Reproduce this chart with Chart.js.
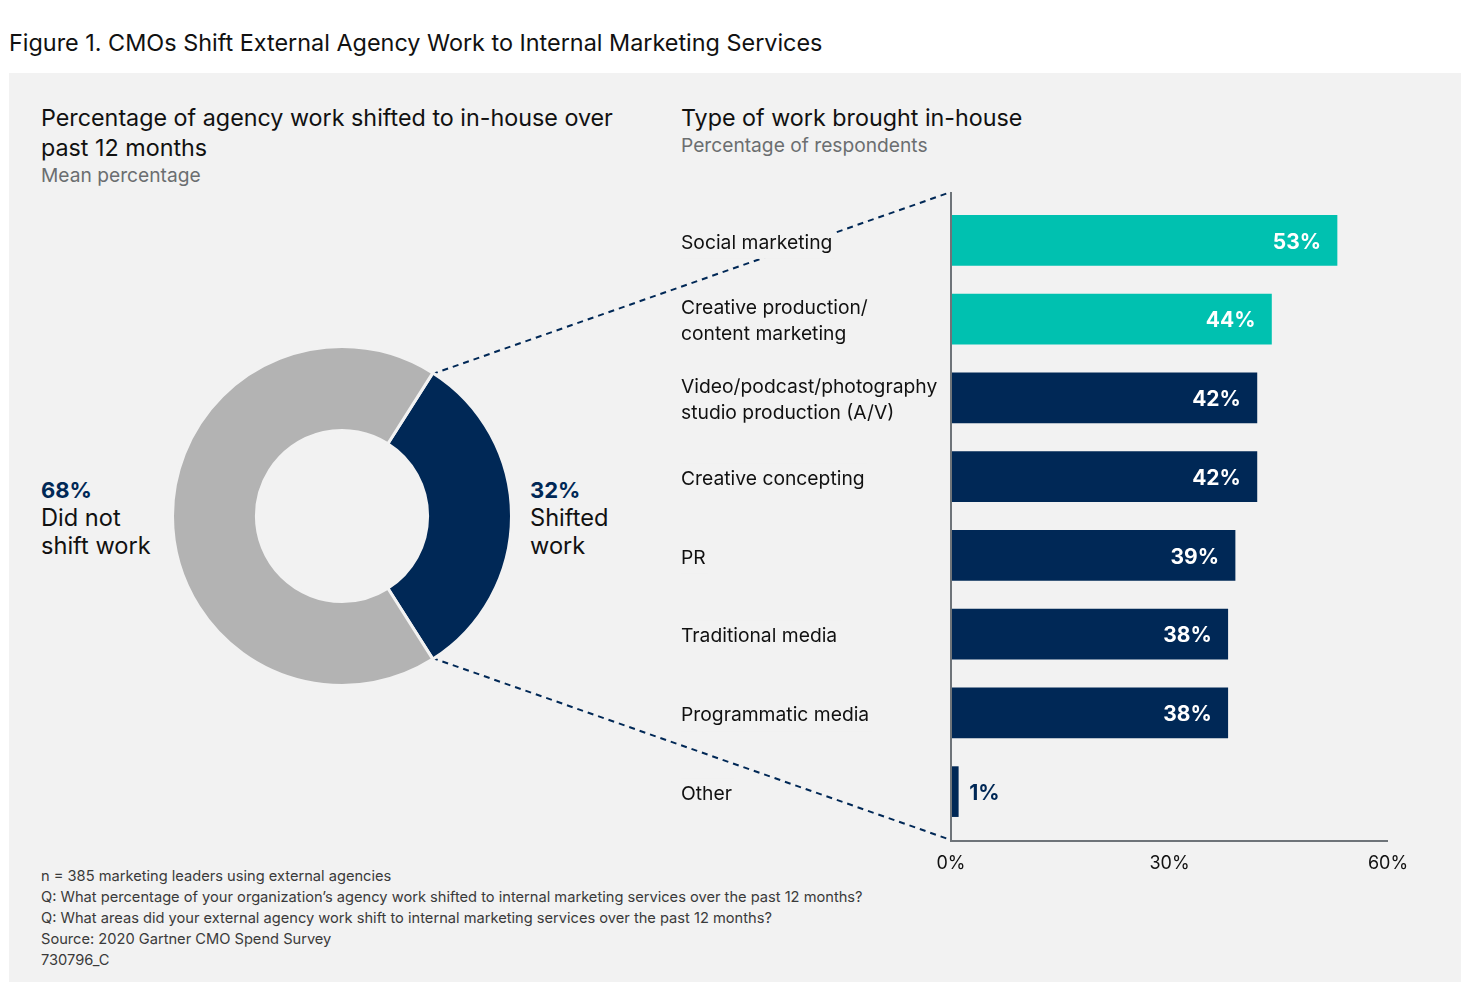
<!DOCTYPE html>
<html>
<head>
<meta charset="utf-8">
<script src="https://cdn.jsdelivr.net/npm/chart.js@4/dist/chart.umd.min.js"></script>
<style>
  html, body { margin: 0; padding: 0; background: #ffffff; }
  body { width: 1480px; height: 982px; position: relative; overflow: hidden; font-family: Inter, Roboto, "Noto Sans", sans-serif; color: #111; }
  .abs { position: absolute; white-space: nowrap; }
  #title { left: 9px; top: 28px; font-size: 23.4px; line-height: 30px; color: #111; }
  #panel { left: 9px; top: 73px; width: 1452px; height: 909px; background: #f2f2f2; }
  .h { font-size: 23.3px; line-height: 30px; color: #111; }
  .sub { font-size: 19.2px; line-height: 26px; color: #6b6e70; }
  .dl { font-size: 23.6px; line-height: 28px; color: #111; }
  .dl b { color: #002856; font-weight: 700; font-size: 22px; }
  #foot { left: 41px; top: 866px; font-size: 14.65px; line-height: 21px; color: #3a3a3a; }
  canvas { position: absolute; }
</style>
</head>
<body>
<div id="title" class="abs">Figure 1. CMOs Shift External Agency Work to Internal Marketing Services</div>
<div id="panel" class="abs"></div>

<div class="abs h" style="left:41px; top:103px;">Percentage of agency work shifted to in-house over<br>past 12 months</div>
<div class="abs sub" style="left:41px; top:162px;">Mean percentage</div>

<div class="abs h" style="left:681px; top:103px;">Type of work brought in-house</div>
<div class="abs sub" style="left:681px; top:132px;">Percentage of respondents</div>

<div class="abs dl" style="left:41px; top:476px;"><b id="lblNot"></b><br>Did not<br>shift work</div>
<div class="abs dl" style="left:530px; top:476px;"><b id="lblShift"></b><br>Shifted<br>work</div>

<div id="foot" class="abs">n = 385 marketing leaders using external agencies<br>Q: What percentage of your organization’s agency work shifted to internal marketing services over the past 12 months?<br>Q: What areas did your external agency work shift to internal marketing services over the past 12 months?<br>Source: 2020 Gartner CMO Spend Survey<br>730796_C</div>

<canvas id="links" width="1480" height="982" style="left:0;top:0;"></canvas>
<canvas id="donut" width="342" height="342" style="left:171px;top:345px;"></canvas>
<canvas id="bars" width="760" height="700" style="left:671px;top:180px;"></canvas>

<script>
// ---- data ----
const donutLabels = ["Shifted work", "Did not shift work"];
const donutValues = [32, 68];

const barCategories = [
  "Social marketing",
  ["Creative production/", "content marketing"],
  ["Video/podcast/photography", "studio production (A/V)"],
  "Creative concepting",
  "PR",
  "Traditional media",
  "Programmatic media",
  "Other"
];
const barValues = [53, 44, 42, 42, 39, 38, 38, 1];
const highlightCount = 2;
const xTicks = [0, 30, 60];

const NAVY = "#002856", TEAL = "#00c1b0", GREY = "#b3b3b3", PANEL = "#f2f2f2";
const FONT = "Inter, Roboto, 'Noto Sans', sans-serif";

document.getElementById("lblShift").textContent = donutValues[0] + "%";
document.getElementById("lblNot").textContent = donutValues[1] + "%";

Chart.defaults.font.family = FONT;
Chart.defaults.color = "#111";

const donut = new Chart(document.getElementById("donut"), {
  type: "doughnut",
  data: {
    labels: donutLabels,
    datasets: [{
      data: donutValues,
      backgroundColor: [NAVY, GREY],
      borderColor: PANEL,
      borderWidth: 3,
      hoverOffset: 0
    }]
  },
  options: {
    responsive: false,
    animation: false,
    devicePixelRatio: 1,
    rotation: 90 - donutValues[0] / 100 * 180,
    cutout: "50.5%",
    layout: { padding: 0 },
    plugins: { legend: { display: false }, tooltip: { enabled: false } }
  }
});

const valueLabels = {
  id: "valueLabels",
  afterDatasetsDraw(chart) {
    const ctx = chart.ctx;
    const meta = chart.getDatasetMeta(0);
    ctx.save();
    ctx.font = "700 21px " + FONT;
    ctx.textBaseline = "middle";
    meta.data.forEach((bar, i) => {
      const txt = barValues[i] + "%";
      const w = ctx.measureText(txt).width;
      const len = bar.x - bar.base;
      if (len > w + 30) {
        ctx.fillStyle = "#ffffff";
        ctx.textAlign = "right";
        ctx.fillText(txt, bar.x - 16, bar.y + 2);
      } else {
        ctx.fillStyle = NAVY;
        ctx.textAlign = "left";
        ctx.fillText(txt, bar.x + 11, bar.y + 2);
      }
    });
    ctx.restore();
  },
  afterDraw(chart) {
    const ctx = chart.ctx, a = chart.chartArea;
    ctx.save();
    ctx.strokeStyle = "#6e7479";
    ctx.lineWidth = 2;
    ctx.beginPath();
    ctx.moveTo(a.left, a.top - 9);
    ctx.lineTo(a.left, a.bottom + 11);
    ctx.moveTo(a.left - 1, a.bottom + 10);
    ctx.lineTo(a.right, a.bottom + 10);
    ctx.stroke();
    ctx.restore();
  }
};

const bars = new Chart(document.getElementById("bars"), {
  type: "bar",
  data: {
    labels: barCategories,
    datasets: [{
      data: barValues,
      backgroundColor: barValues.map((v, i) => i < highlightCount ? TEAL : NAVY),
      borderWidth: 0,
      barThickness: 50
    }]
  },
  options: {
    indexAxis: "y",
    responsive: false,
    animation: false,
    devicePixelRatio: 1,
    layout: { padding: { left: 10, right: 43, top: 21, bottom: 0 } },
    plugins: { legend: { display: false }, tooltip: { enabled: false } },
    scales: {
      x: {
        min: xTicks[0], max: xTicks[xTicks.length - 1],
        grid: { display: false, drawTicks: false },
        border: { display: false },
        afterBuildTicks: s => { s.ticks = xTicks.map(v => ({ value: v })); },
        afterFit: s => { s.height = 49; },
        ticks: {
          padding: 22,
          color: "#111",
          font: { size: 18 },
          callback: v => v + "%"
        }
      },
      y: {
        grid: { display: false, drawTicks: false },
        border: { display: false },
        afterFit: s => { s.width = 270; },
        ticks: {
          crossAlign: "far",
          labelOffset: 2.5,
          color: "#111",
          font: { size: 19.3, lineHeight: 1.345 },
          showLabelBackdrop: c => !Array.isArray(barCategories[c.index]),
          backdropColor: PANEL,
          backdropPadding: 3
        }
      }
    }
  },
  plugins: [valueLabels]
});

// ---- dashed connector lines, computed from both charts' geometry ----
(function drawLinks() {
  const c = document.getElementById("links");
  const ctx = c.getContext("2d");
  const dr = document.getElementById("donut").getBoundingClientRect();
  const br = document.getElementById("bars").getBoundingClientRect();
  const arc = donut.getDatasetMeta(0).data[0];
  const R = arc.outerRadius - 1.5;
  const p1 = { x: dr.left + arc.x + R * Math.cos(arc.startAngle), y: dr.top + arc.y + R * Math.sin(arc.startAngle) };
  const p2 = { x: dr.left + arc.x + R * Math.cos(arc.endAngle), y: dr.top + arc.y + R * Math.sin(arc.endAngle) };
  const a = bars.chartArea;
  const q1 = { x: br.left + a.left, y: br.top + a.top - 9 };
  const q2 = { x: br.left + a.left, y: br.top + a.bottom + 9 };
  ctx.strokeStyle = NAVY;
  ctx.lineWidth = 2;
  ctx.setLineDash([6, 5]);
  ctx.beginPath();
  ctx.moveTo(p1.x, p1.y); ctx.lineTo(q1.x, q1.y);
  ctx.moveTo(p2.x, p2.y); ctx.lineTo(q2.x, q2.y);
  ctx.stroke();
})();
</script>
</body>
</html>
